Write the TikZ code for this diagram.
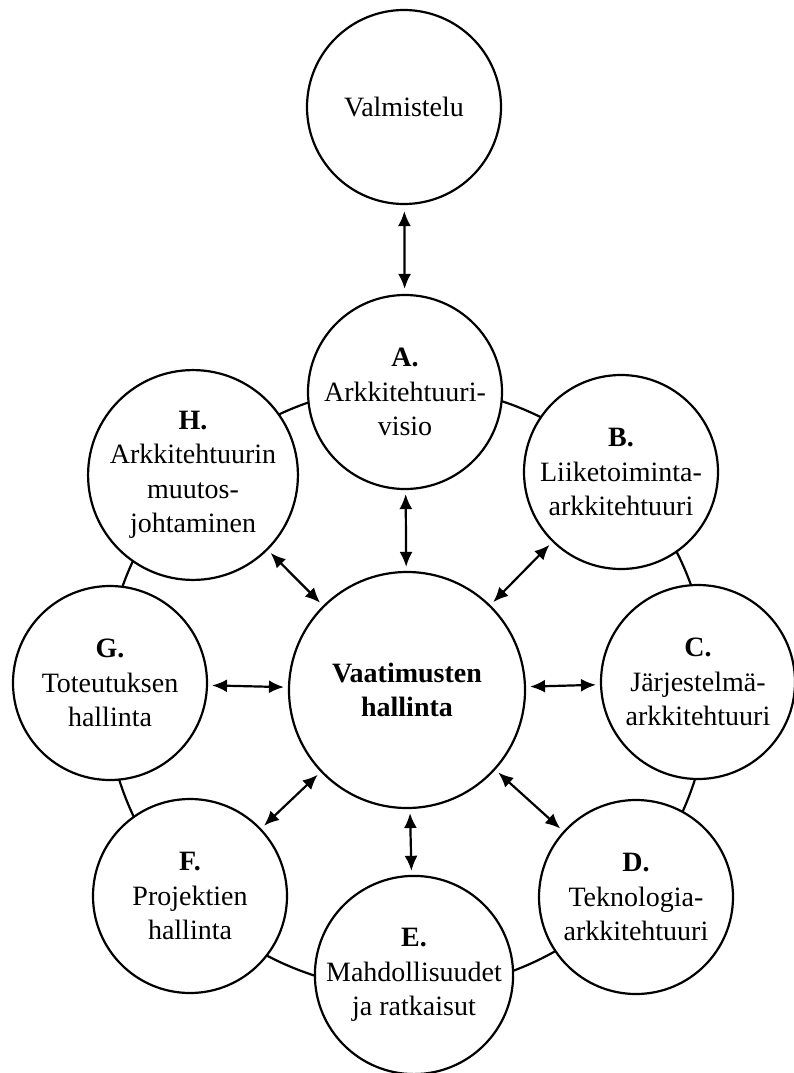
\documentclass[tikz,border=0pt]{standalone}
\usepackage{fontspec}
\setmainfont{Liberation Serif}
\usetikzlibrary{arrows.meta}
\tikzset{
  phase/.style={circle, draw, line width=2.2pt, fill=white, minimum size=194pt, inner sep=0pt,
    align=center, font=\fontsize{28}{34.5}\selectfont},
  hub/.style={phase, minimum size=236pt},
  biarrow/.style={line width=2.2pt, {Latex[length=15pt,width=13pt]}-{Latex[length=15pt,width=13pt]},
    shorten <=4pt, shorten >=4pt},
  ring/.style={line width=2.2pt}
}
\begin{document}
\begin{tikzpicture}[x=1pt,y=-1pt]
\useasboundingbox (0,0) rectangle (793,1073);
\draw[ring] (407,688) circle[radius=302];
\node[phase] (valm) at (404,107) {Valmistelu};
\node[phase] (A) at (405,392) {\textbf{A.}\\Arkkitehtuuri-\\visio};
\node[phase] (B) at (621,472) {\textbf{B.}\\Liiketoiminta-\\arkkitehtuuri};
\node[phase] (C) at (698,682) {\textbf{C.}\\Järjestelmä-\\arkkitehtuuri};
\node[phase] (D) at (636,897) {\textbf{D.}\\Teknologia-\\arkkitehtuuri};
\node[phase] (E) at (414,975) {\textbf{E.}\\Mahdollisuudet\\ja ratkaisut};
\node[phase] (F) at (190,896) {\textbf{F.}\\Projektien\\hallinta};
\node[phase] (G) at (110,683) {\textbf{G.}\\Toteutuksen\\hallinta};
\node[phase] (H) at (193,475) {\textbf{H.}\\Arkkitehtuurin\\muutos-\\johtaminen};
\node[hub] (V) at (407,690) {\textbf{Vaatimusten}\\\textbf{hallinta}};
\draw[biarrow, shorten <=6pt, shorten >=5pt] (valm) -- (A);
\foreach \n in {A,B,C,D,E,F,G,H} {
  \draw[biarrow] (V) -- (\n);
}
\end{tikzpicture}
\end{document}
